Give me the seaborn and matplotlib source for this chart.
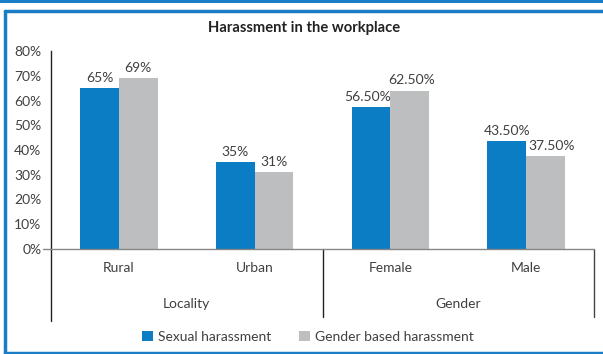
import matplotlib
matplotlib.use("Agg")
import matplotlib.pyplot as plt
import matplotlib.transforms as mtransforms
from matplotlib.patches import Patch
from matplotlib.lines import Line2D
import seaborn as sns
import pandas as pd

categories = ["Rural", "Urban", "Female", "Male"]
groups = ["Locality", "Gender"]
series_names = ["Sexual harassment", "Gender based harassment"]
# bar heights
sexual = [65, 35, 57.5, 43.5]
gender_based = [69, 31, 64, 37.5]
# data labels as printed on the chart
label_sexual = ["65%", "35%", "56.50%", "43.50%"]
label_gender = ["69%", "31%", "62.50%", "37.50%"]
yticks = [0, 10, 20, 30, 40, 50, 60, 70, 80]
title = "Harassment in the workplace"

colors = ["#0A7DC4", "#BDBEC0"]
text_color = "#404040"

sns.set_theme(style="white")
plt.rcParams["font.family"] = ["Lato", "DejaVu Sans"]

df = pd.DataFrame({
    "category": categories * 2,
    "series": [series_names[0]] * 4 + [series_names[1]] * 4,
    "value": sexual + gender_based,
})

W, H = 603, 354
fig = plt.figure(figsize=(W / 100, H / 100), dpi=100)
ax = fig.add_axes([51 / W, 1 - 249 / H, (594 - 51) / W, (249 - 51) / H])

sns.barplot(data=df, x="category", y="value", hue="series", order=categories,
            hue_order=series_names, palette=colors, width=0.57, gap=0,
            saturation=1, ax=ax, legend=False, edgecolor="none", linewidth=0)

ax.set_ylim(0, 80)
ax.set_xlim(-0.5, 3.5)
ax.set_yticks(yticks)
ax.set_yticklabels([f"{v}%" for v in yticks], fontsize=10, color=text_color)
ax.set_xticks([])
ax.set_xlabel("")
ax.set_ylabel("")
ax.tick_params(axis="y", length=0, pad=7)

for s in ["top", "right", "bottom"]:
    ax.spines[s].set_visible(False)
ax.spines["left"].set_color("#222222")
ax.spines["left"].set_linewidth(1.0)

# data labels (small horizontal nudges like the original's label placement)
nudges = [[0, 0, -3, 0], [0, 0, 2, 6]]
for container, labels, nud in zip(ax.containers, [label_sexual, label_gender], nudges):
    for bar, lab, dx in zip(container, labels, nud):
        ax.annotate(lab, (bar.get_x() + bar.get_width() / 2, bar.get_height()),
                    xytext=(dx * 0.72, 3), textcoords="offset points",
                    ha="center", va="bottom", fontsize=10, color=text_color)

trans = mtransforms.blended_transform_factory(ax.transData, ax.transAxes)
ax_h = 249 - 51
# horizontal axis line (extending slightly left)
ax.plot([-0.5 - 8 / 135.75, 3.5], [0, 0], transform=trans, color="#868686",
        lw=1.0, clip_on=False, zorder=5)
# left extension of spine
ax.plot([-0.5, -0.5], [0, -(321 - 249) / ax_h], transform=trans, color="#222222",
        lw=1.0, clip_on=False)
# dividers
for xpos in [1.5, 3.5]:
    ax.plot([xpos, xpos], [0, -(317 - 249) / ax_h], transform=trans,
            color="#222222" if xpos == 1.5 else "#444444", lw=1.0, clip_on=False)

# category labels
for i, c in enumerate(categories):
    ax.text(i, -(268 - 249) / ax_h, c, transform=trans, ha="center", va="center",
            fontsize=10, color=text_color)
for j, g in enumerate(groups):
    ax.text(0.5 + 2 * j, -(304 - 249) / ax_h, g, transform=trans, ha="center",
            va="center", fontsize=10, color=text_color)

fig.text(304 / W, 1 - 28 / H, title, ha="center", va="center", fontsize=10.6,
         fontweight="bold", color="#222222")

handles = [Patch(facecolor=colors[0], edgecolor="none"),
           Patch(facecolor=colors[1], edgecolor="none")]
fig.legend(handles, series_names, loc="center", bbox_to_anchor=(308 / W, 1 - 337 / H),
           ncol=2, frameon=False, fontsize=10, handlelength=0.75, handleheight=0.75,
           handletextpad=0.4, columnspacing=2.0, labelcolor=text_color)

# outer blue frame
border = "#1A7DC6"
fig.add_artist(Line2D([0, 1], [1 - 1 / H, 1 - 1 / H], transform=fig.transFigure,
                      color=border, lw=2.2))
fig.add_artist(Line2D([5 / W, 1], [1 - 10.5 / H, 1 - 10.5 / H], transform=fig.transFigure,
                      color=border, lw=2.5))
fig.add_artist(Line2D([5 / W, 1], [1 - 352.5 / H, 1 - 352.5 / H], transform=fig.transFigure,
                      color=border, lw=2.5))
fig.add_artist(Line2D([5 / W, 5 / W], [1 - 10.5 / H, 1 - 352.5 / H], transform=fig.transFigure,
                      color=border, lw=2.5))

fig.savefig("out.png", dpi=100)
